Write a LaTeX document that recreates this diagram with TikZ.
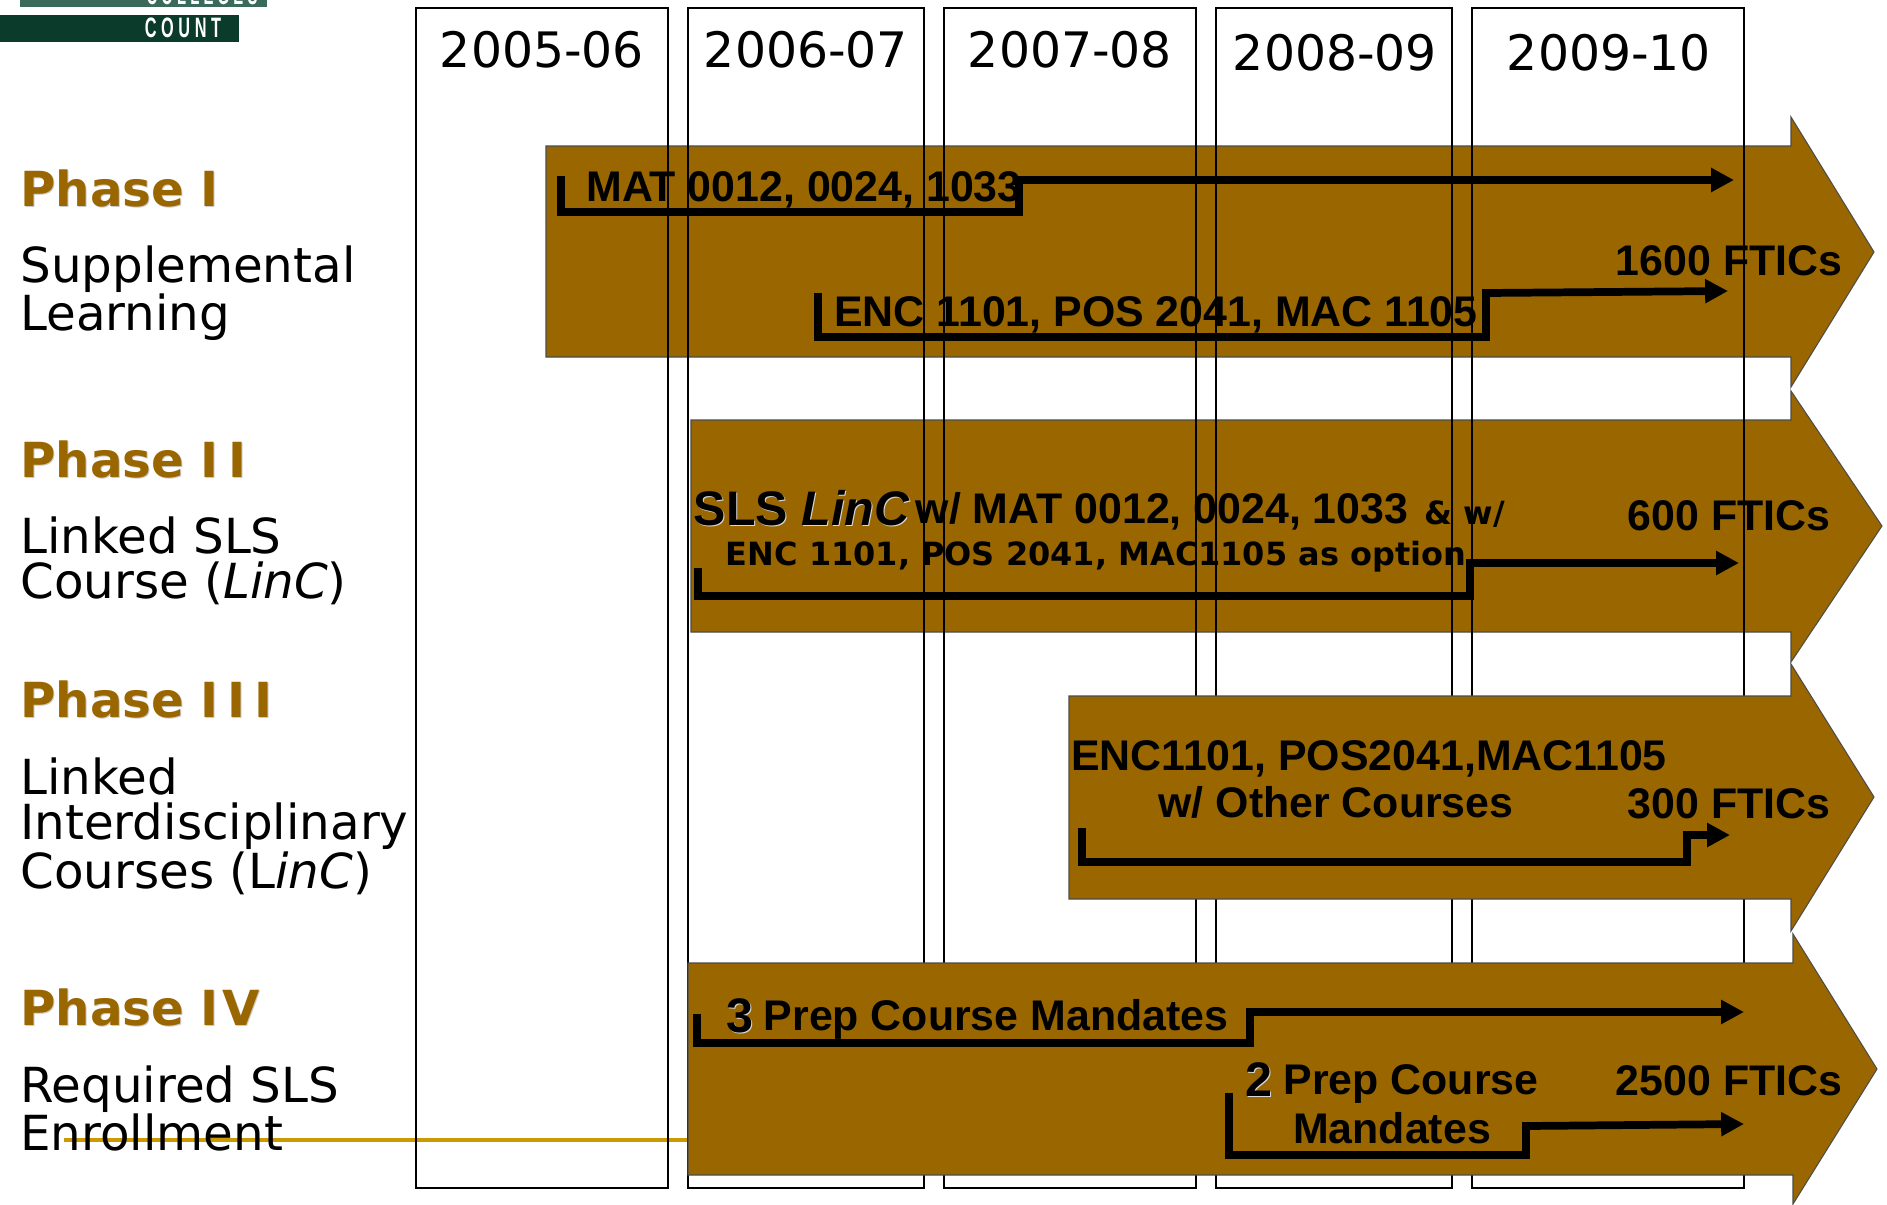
\documentclass[tikz,border=0pt]{standalone}
\usepackage{fontspec}
\setmainfont{DejaVu Sans}
\newfontfamily\boxfont{Liberation Sans}
\usetikzlibrary{arrows.meta}
\definecolor{bandbrown}{HTML}{996600}
\definecolor{linegold}{HTML}{CC9900}
\definecolor{logodark}{HTML}{0B3B2B}
\definecolor{logolight}{HTML}{3A6B5A}
\begin{document}
\begin{tikzpicture}[
                x=0.02cm, y=-0.02cm,
                yearbox/.style={draw, line width=1.2pt, fill=none},
                band/.style={draw=black!70, line width=0.6pt, fill=bandbrown},
                year/.style={font=\fontsize{27.8}{27.8}\selectfont, anchor=center},
                phase/.style={font=\fontsize{27.5}{27.5}\selectfont\bfseries, text=bandbrown, anchor=west},
                phaseshade/.style={phase, text=black!20},
                descr/.style={font=\fontsize{27.5}{26}\selectfont, anchor=north west, align=left, inner sep=0pt},
                lbl/.style={font=\boxfont\fontsize{24.4}{24.4}\selectfont\bfseries, anchor=center, align=center, inner sep=0pt},
                biglbl/.style={lbl, font=\boxfont\fontsize{27.6}{27.6}\selectfont\bfseries},
                biglight/.style={biglbl, text=black!15},
                small/.style={font=\fontsize{18.2}{18.2}\selectfont\bfseries, anchor=center, inner sep=0pt},
                logotext/.style={font=\boxfont\fontsize{16}{16}\selectfont\bfseries, text=white},
                flow/.style={line width=4.4pt, -{Triangle[length=13pt,width=13pt]}, line join=miter}]
                \useasboundingbox (0,0) rectangle (1887,1204);
                % logo
                \fill[logolight] (20,-5) rectangle (267,7);
                \fill[logodark] (0,15) rectangle (239,42);
                \node[logotext] (logotop) at (202,-5) {\scalebox{0.53}[1]{C O L L E G E S}};
                \node[logotext] (logocount) at (183,28) {\scalebox{0.58}[1]{C O U N T}};
                % bands under the columns
                \draw[band] (546,146) -- (1791,146) -- (1791,117) -- (1874,252) -- (1791,387) -- (1791,357) -- (546,357) -- cycle;
                \draw[band] (691,420) -- (1791,420) -- (1791,391) -- (1882,526) -- (1791,662) -- (1791,632) -- (691,632) -- cycle;
                \coordinate (goldstart) at (64,1140);
                \coordinate (goldend) at (688,1140);
                \draw[linegold, line width=2.3pt] (goldstart) -- (goldend);
                % columns
                \draw[yearbox] (416,8) rectangle (668,1188);
                \draw[yearbox] (688,8) rectangle (924,1188);
                \draw[yearbox] (944,8) rectangle (1196,1188);
                \draw[yearbox] (1216,8) rectangle (1452,1188);
                \draw[yearbox] (1472,8) rectangle (1744,1188);
                \node[year] (y05) at (542,50) {2005-06};
                \node[year] (y06) at (806,50) {2006-07};
                \node[year] (y07) at (1070,50) {2007-08};
                \node[year] (y08) at (1335,53) {2008-09};
                \node[year] (y09) at (1609,53) {2009-10};
                % bands over the columns
                \draw[band] (1069,696) -- (1791,696) -- (1791,664) -- (1874,797) -- (1791,931) -- (1791,899) -- (1069,899) -- cycle;
                \draw[band] (688,963) -- (1793,963) -- (1793,934) -- (1877,1069) -- (1793,1204) -- (1793,1175) -- (688,1175) -- cycle;
                % left side
                \node[phaseshade] (p1s) at (15,189) {Phase I};
                \node[phase] (p1) at (14,188) {Phase I};
                \node[descr] (d1) at (20,245) {Supplemental\\Learning};
                \node[phaseshade] (p2s) at (15,460) {Phase I\kern5.5pt I};
                \node[phase] (p2) at (14,459) {Phase I\kern5.5pt I};
                \node[descr] (d2) at (20,516) {Linked SLS\\Course (\textit{LinC})};
                \node[phaseshade] (p3s) at (15,700) {Phase I\kern5pt I\kern5pt I};
                \node[phase] (p3) at (14,699) {Phase I\kern5pt I\kern5pt I};
                \node[descr] (d3) at (20,757) {Linked\\Interdisciplinary\\Courses (L\textit{inC})};
                \node[phaseshade] (p4s) at (15,1008) {Phase I\kern2pt V};
                \node[phase] (p4) at (14,1007) {Phase I\kern2pt V};
                \node[descr] (d4) at (20,1065) {Required SLS\\Enrollment};
                % band texts
                \node[lbl] (t1) at (804,190) {MAT 0012, 0024, 1033};
                \node[lbl] (t2) at (1156,315) {ENC 1101, POS 2041, MAC 1105};
                \node[lbl] (n1) at (1729,261) {1600 FTICs};
                \node[biglight] (t3s) at (803,509) {SLS \textit{LinC}};
                \node[biglbl] (t3) at (802,508) {SLS \textit{LinC}};
                \node[lbl] (t3b) at (1162,511) {w/ MAT 0012, 0024, 1033};
                \node[small] (t3c) at (1465,514) {\& w/};
                \node[small] (t4) at (1096,557) {ENC 1101, POS 2041, MAC1105 as option};
                \node[lbl] (n2) at (1729,516) {600 FTICs};
                \node[lbl] (t5) at (1369,759) {ENC1101, POS2041,MAC1105};
                \node[lbl] (t5b) at (1336,802) {w/ Other Courses};
                \node[lbl] (n3) at (1729,804) {300 FTICs};
                \node[biglight] (t6s) at (741,1017) {3};
                \node[biglbl] (t6) at (740,1016) {3};
                \node[lbl] (t6b) at (996,1019) {Prep Course Mandates};
                \node[biglight] (t7s) at (1260,1081) {2};
                \node[biglbl] (t7) at (1259,1080) {2};
                \node[lbl] (t7b) at (1411,1084) {Prep Course};
                \node[lbl] (t7c) at (1392,1128) {Mandates};
                \node[lbl] (n4) at (1729,1081) {2500 FTICs};
                % flow arrows
                \coordinate (a1s) at (561,176);
                \coordinate (a1e) at (1734,180);
                \draw[flow] (a1s) |- (1019,212) |- (a1e);
                \coordinate (a2s) at (818,293);
                \coordinate (a2a) at (1486,337);
                \coordinate (a2b) at (1486,293);
                \coordinate (a2e) at (1728,291);
                \draw[flow] (a2s) |- (a2a) -- (a2b) -- (a2e);
                \coordinate (a3s) at (698,568);
                \coordinate (a3e) at (1739,563);
                \draw[flow] (a3s) |- (1470,596) |- (a3e);
                \coordinate (a4s) at (1082,828);
                \coordinate (a4e) at (1730,835);
                \draw[flow] (a4s) |- (1687,862) |- (a4e);
                \coordinate (a5s) at (697,1014);
                \coordinate (a5e) at (1744,1012);
                \draw[flow] (a5s) |- (1250,1043) |- (a5e);
                \coordinate (a6s) at (1229,1093);
                \coordinate (a6a) at (1526,1155);
                \coordinate (a6b) at (1526,1126);
                \coordinate (a6e) at (1744,1124);
                \draw[flow] (a6s) |- (a6a) -- (a6b) -- (a6e);
            \end{tikzpicture}
\end{document}
